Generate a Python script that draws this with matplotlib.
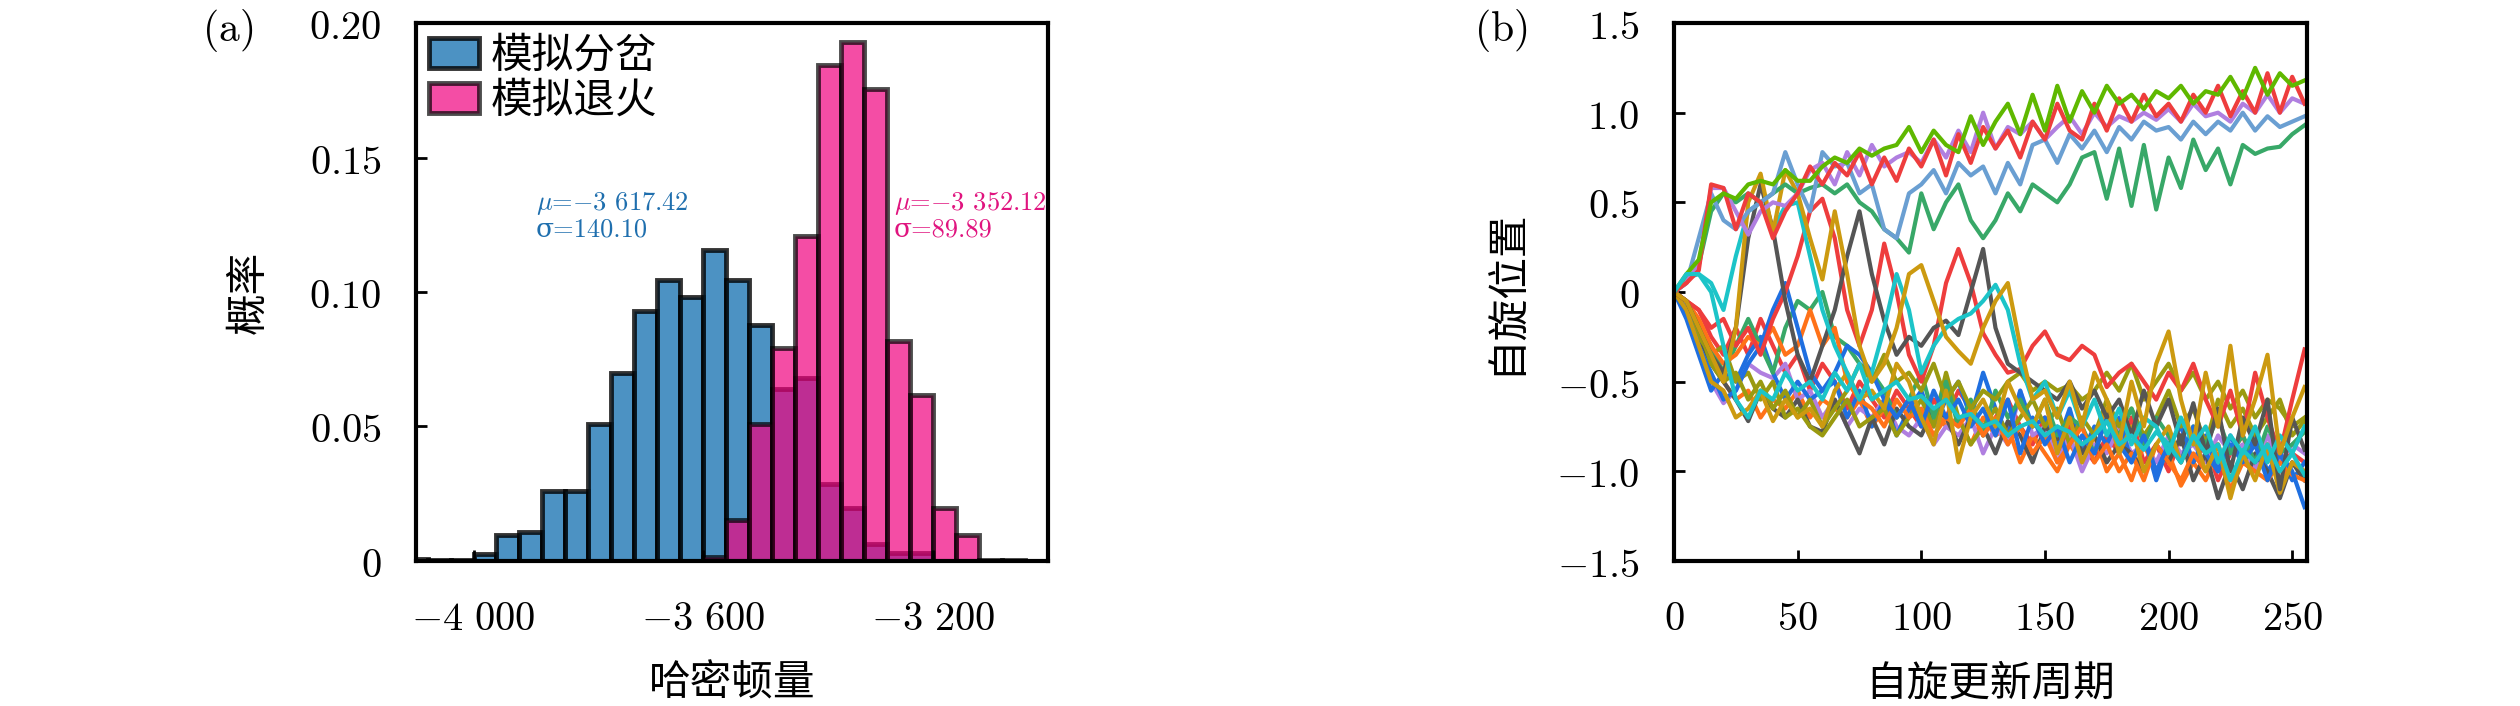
import numpy as np
import matplotlib
matplotlib.use("Agg")
import matplotlib.pyplot as plt

plt.rcParams['font.family'] = ['Noto Sans CJK SC', 'DejaVu Sans']
plt.rcParams['mathtext.fontset'] = 'cm'

# ---------------- (a) histogram data ----------------
bin_left = [-4120, -4080, -4040, -4000, -3960, -3920, -3880, -3840, -3800,
            -3760, -3720, -3680, -3640, -3600, -3560, -3520, -3480, -3440,
            -3400, -3360, -3320, -3280, -3240, -3200, -3160, -3120, -3080]
bin_width = 40
prob_bifurcation = [0.0006, 0.0004, 0.0004, 0.0026, 0.0095, 0.0107, 0.026, 0.026, 0.051,
                    0.0698, 0.093, 0.1046, 0.098, 0.1158, 0.1046, 0.0877, 0.064, 0.068,
                    0.0287, 0.0198, 0.0064, 0.0029, 0.0029, 0, 0, 0, 0]
prob_annealing = [0, 0, 0, 0, 0, 0, 0, 0, 0,
                  0, 0, 0, 0, 0.0015, 0.0153, 0.051, 0.0793, 0.1207,
                  0.1843, 0.1931, 0.1755, 0.0816, 0.0617, 0.0198, 0.0098, 0.0005, 0.0005]
hist_labels = ['模拟分岔', '模拟退火']
text_bif = r'$\mu$=$-$3 617.42' + '\n' + 'σ=140.10'
text_ann = r'$\mu$=$-$3 352.12' + '\n' + 'σ=89.89'

hx_ticks = [-4000, -3600, -3200]
hx_labels = [r'$-4\ 000$', r'$-3\ 600$', r'$-3\ 200$']
hy_ticks = [0, 0.05, 0.10, 0.15, 0.20]
hy_labels = [r'$0$', r'$0.05$', r'$0.10$', r'$0.15$', r'$0.20$']

# ---------------- (b) spin trajectories (sampled every 5 cycles) ----------------
steps = list(range(0, 256, 5))

lime_up = [0.0, 0.1, 0.18, 0.5, 0.55, 0.52, 0.6, 0.62, 0.6, 0.68,
           0.62, 0.62, 0.7, 0.75, 0.72, 0.8, 0.76, 0.8, 0.82, 0.92,
           0.78, 0.9, 0.82, 0.78, 0.98, 0.82, 0.95, 1.05, 0.88, 1.1,
           0.9, 1.15, 0.95, 1.12, 1.0, 1.15, 1.05, 1.1, 1.02, 1.12,
           1.08, 1.15, 1.05, 1.12, 1.1, 1.2, 1.08, 1.25, 1.1, 1.22,
           1.15, 1.18]
red_up = [0.0, 0.05, 0.12, 0.6, 0.58, 0.35, 0.55, 0.5, 0.3, 0.45,
          0.55, 0.7, 0.6, 0.72, 0.65, 0.78, 0.6, 0.75, 0.62, 0.8,
          0.7, 0.85, 0.65, 0.88, 0.72, 0.92, 0.8, 0.9, 0.75, 0.95,
          0.85, 1.05, 0.9, 0.85, 1.05, 0.9, 1.08, 0.95, 1.1, 0.98,
          1.05, 0.95, 1.1, 1.0, 1.15, 0.98, 1.12, 1.0, 1.22, 1.0,
          1.2, 1.05]
purple_up = [0.0, 0.05, 0.15, 0.58, 0.58, 0.45, 0.32, 0.45, 0.5, 0.48,
             0.55, 0.68, 0.72, 0.6, 0.78, 0.65, 0.82, 0.7, 0.75, 0.78,
             0.72, 0.85, 0.75, 0.9, 0.78, 1.0, 0.8, 0.92, 0.88, 0.95,
             0.85, 0.92, 0.98, 0.88, 1.0, 0.92, 0.98, 0.95, 1.0, 0.96,
             1.02, 0.95, 1.05, 0.98, 1.0, 0.95, 1.05, 1.0, 1.1, 1.0,
             1.08, 1.05]
steel_up = [0.0, 0.05, 0.3, 0.55, 0.4, 0.35, 0.45, 0.5, 0.55, 0.78,
            0.6, 0.45, 0.78, 0.7, 0.72, 0.55, 0.6, 0.35, 0.3, 0.55,
            0.6, 0.68, 0.55, 0.72, 0.65, 0.7, 0.55, 0.72, 0.6, 0.82,
            0.85, 0.72, 0.88, 0.8, 0.9, 0.78, 0.92, 0.85, 0.95, 0.9,
            0.92, 0.85, 0.95, 0.88, 0.95, 0.9, 1.0, 0.9, 0.98, 0.92,
            0.95, 0.98]
green_up = [0.0, 0.05, 0.15, 0.45, 0.55, 0.5, 0.55, 0.5, 0.55, 0.6,
            0.55, 0.58, 0.6, 0.55, 0.6, 0.5, 0.45, 0.35, 0.3, 0.22,
            0.55, 0.35, 0.5, 0.6, 0.4, 0.3, 0.4, 0.55, 0.45, 0.6,
            0.55, 0.5, 0.6, 0.75, 0.78, 0.52, 0.8, 0.48, 0.82, 0.46,
            0.75, 0.58, 0.85, 0.68, 0.8, 0.6, 0.82, 0.77, 0.8, 0.81,
            0.88, 0.93]

red_low = [0.0, -0.05, -0.1, -0.2, -0.15, -0.3, -0.2, -0.35, -0.15, 0.0,
           0.2, 0.45, 0.52, 0.3, -0.1, -0.3, -0.1, 0.27, 0.0, -0.35,
           -0.5, -0.3, 0.05, 0.24, 0.05, -0.23, -0.35, -0.45, -0.43, -0.3,
           -0.22, -0.35, -0.38, -0.3, -0.35, -0.53, -0.45, -0.4, -0.5, -0.6,
           -0.45, -0.55, -0.4, -0.6, -0.75, -0.55, -0.8, -0.45, -0.7, -0.9,
           -0.6, -0.32]
gray_a = [0.0, -0.05, -0.2, -0.35, -0.45, -0.2, 0.3, 0.6, 0.35, -0.05,
          -0.35, -0.5, -0.3, -0.1, 0.2, 0.45, 0.1, -0.16, -0.35, -0.25,
          -0.3, -0.2, -0.16, -0.24, 0.0, 0.24, -0.2, -0.4, -0.45, -0.5,
          -0.55, -0.6, -0.5, -0.65, -0.55, -0.7, -0.6, -0.8, -0.55, -0.75,
          -0.6, -0.85, -0.62, -0.9, -0.65, -1.0, -0.7, -0.85, -0.6, -1.1,
          -0.7, -0.88]
gray_b = [0.0, -0.1, -0.25, -0.4, -0.5, -0.6, -0.72, -0.55, -0.65, -0.7,
          -0.6, -0.75, -0.78, -0.6, -0.75, -0.9, -0.7, -0.85, -0.65, -0.75,
          -0.8, -0.65, -0.7, -0.85, -0.7, -0.75, -0.9, -0.72, -0.8, -0.95,
          -0.75, -0.82, -0.7, -0.9, -0.8, -0.95, -0.85, -0.9, -1.0, -0.85,
          -0.95, -0.8, -1.05, -0.9, -1.15, -0.95, -1.1, -0.9, -1.0, -1.15,
          -0.95, -1.05]
cyan_a = [0.0, 0.08, 0.1, 0.05, -0.1, 0.2, 0.45, 0.5, 0.35, 0.48,
          0.5, 0.2, -0.1, -0.3, -0.45, -0.6, -0.45, -0.2, 0.1, -0.1,
          -0.45, -0.3, -0.2, -0.15, -0.12, -0.05, 0.04, -0.1, -0.4, -0.6,
          -0.5, -0.7, -0.55, -0.75, -0.6, -0.8, -0.65, -0.85, -0.7, -0.75,
          -0.9, -0.7, -0.85, -0.75, -0.95, -0.8, -0.9, -0.75, -0.95, -0.8,
          -0.9, -0.75]
cyan_b = [0.0, 0.1, 0.1, 0.0, -0.3, -0.6, -0.7, -0.55, -0.6, -0.45,
          -0.55, -0.5, -0.6, -0.45, -0.55, -0.4, -0.6, -0.55, -0.5, -0.6,
          -0.58, -0.65, -0.6, -0.7, -0.68, -0.75, -0.72, -0.8, -0.75, -0.72,
          -0.8, -0.75, -0.78, -0.85, -0.8, -0.72, -0.85, -0.8, -0.88, -0.78,
          -0.85, -0.95, -0.8, -0.9, -0.85, -1.05, -0.88, -0.95, -0.85, -1.0,
          -0.9, -1.02]
gold_a = [0.0, -0.05, -0.2, -0.35, -0.5, -0.2, 0.5, 0.66, 0.33, 0.68,
          0.55, 0.3, 0.07, 0.45, 0.1, -0.3, -0.5, -0.4, -0.2, 0.1,
          0.15, -0.05, -0.25, -0.33, -0.4, -0.2, -0.05, 0.05, -0.3, -0.6,
          -0.55, -0.7, -0.5, -0.75, -0.45, -0.6, -0.85, -0.5, -0.75, -0.4,
          -0.22, -0.6, -0.85, -0.45, -0.75, -0.3, -0.8, -0.6, -0.35, -0.9,
          -0.7, -0.53]
gold_b = [0.0, -0.1, -0.3, -0.5, -0.55, -0.7, -0.65, -0.55, -0.72, -0.6,
          -0.7, -0.65, -0.75, -0.55, -0.45, -0.6, -0.55, -0.65, -0.4, -0.5,
          -0.7, -0.85, -0.55, -0.95, -0.7, -0.6, -0.75, -0.5, -0.65, -0.75,
          -0.6, -0.9, -0.7, -0.95, -0.8, -0.65, -0.9, -0.75, -1.0, -0.85,
          -0.75, -0.95, -0.8, -1.0, -0.85, -1.15, -0.9, -1.05, -0.85, -1.12,
          -0.95, -1.0]
olive_a = [0.0, -0.05, -0.2, -0.4, -0.5, -0.45, -0.6, -0.5, -0.65, -0.55,
           -0.7, -0.6, -0.75, -0.65, -0.55, -0.4, -0.5, -0.35, -0.5, -0.45,
           -0.55, -0.4, -0.6, -0.5, -0.65, -0.55, -0.6, -0.5, -0.45, -0.55,
           -0.5, -0.55, -0.52, -0.6, -0.55, -0.45, -0.55, -0.4, -0.6, -0.5,
           -0.4, -0.55, -0.45, -0.6, -0.5, -0.65, -0.55, -0.7, -0.6, -0.65,
           -0.75, -0.7]
olive_b = [0.0, -0.1, -0.25, -0.35, -0.3, -0.5, -0.45, -0.6, -0.5, -0.7,
           -0.65, -0.75, -0.8, -0.7, -0.6, -0.75, -0.7, -0.65, -0.8, -0.7,
           -0.6, -0.75, -0.45, -0.7, -0.85, -0.75, -0.65, -0.8, -0.7, -0.6,
           -0.75, -0.65, -0.85, -0.7, -0.8, -0.6, -0.75, -0.65, -0.8, -0.7,
           -0.55, -0.75, -0.65, -0.85, -0.6, -0.75, -0.65, -0.8, -0.7, -0.6,
           -0.8, -0.72]
orange_a = [0.0, -0.05, -0.15, -0.3, -0.4, -0.35, -0.25, -0.3, -0.2, -0.35,
            -0.3, -0.1, -0.3, -0.2, -0.5, -0.6, -0.65, -0.75, -0.6, -0.7,
            -0.65, -0.8, -0.7, -0.75, -0.65, -0.8, -0.7, -0.85, -0.75, -0.9,
            -0.8, -0.95, -0.85, -0.75, -0.95, -0.85, -1.0, -0.9, -1.05, -0.85,
            -0.95, -1.05, -0.9, -1.0, -0.85, -1.05, -0.95, -1.0, -1.05, -0.95,
            -1.02, -1.05]
orange_b = [0.0, -0.05, -0.2, -0.35, -0.5, -0.6, -0.55, -0.7, -0.6, -0.65,
            -0.55, -0.7, -0.6, -0.65, -0.7, -0.6, -0.75, -0.65, -0.7, -0.6,
            -0.7, -0.65, -0.75, -0.7, -0.85, -0.7, -0.8, -0.75, -0.95, -0.8,
            -0.9, -1.0, -0.85, -0.95, -0.8, -1.0, -0.9, -1.05, -0.85, -1.0,
            -0.9, -1.08, -0.95, -1.05, -0.9, -1.1, -0.95, -1.0, -0.9, -1.05,
            -0.95, -1.0]
blue_a = [0.0, -0.1, -0.3, -0.45, -0.6, -0.55, -0.4, -0.3, -0.1, 0.05,
          -0.2, -0.45, -0.55, -0.45, -0.3, -0.35, -0.45, -0.6, -0.7, -0.6,
          -0.75, -0.55, -0.7, -0.6, -0.75, -0.65, -0.8, -0.6, -0.9, -0.7,
          -0.85, -0.75, -0.95, -0.8, -0.9, -0.7, -0.85, -0.95, -0.8, -1.0,
          -0.85, -0.95, -0.75, -0.9, -1.0, -0.8, -0.95, -0.85, -1.05, -0.9,
          -1.0, -1.2]
blue_b = [0.0, -0.15, -0.35, -0.55, -0.45, -0.5, -0.35, -0.25, -0.45, -0.6,
          -0.5, -0.6, -0.55, -0.5, -0.7, -0.55, -0.75, -0.6, -0.8, -0.65,
          -0.55, -0.75, -0.6, -0.5, -0.7, -0.45, -0.65, -0.8, -0.55, -0.75,
          -0.7, -0.85, -0.65, -0.9, -0.75, -0.85, -0.7, -0.95, -0.8, -1.05,
          -0.85, -0.75, -0.95, -0.8, -1.0, -0.85, -0.95, -0.8, -1.0, -0.9,
          -1.05, -0.95]
green_low = [0.0, -0.05, -0.2, -0.3, -0.45, -0.3, -0.15, -0.3, -0.45, -0.2,
             -0.05, -0.1, 0.0, -0.25, -0.3, -0.4, -0.45, -0.55, -0.7, -0.6,
             -0.45, -0.7, -0.5, -0.75, -0.6, -0.8, -0.55, -0.7, -0.6, -0.75,
             -0.6, -0.8, -0.7, -0.75, -0.9, -0.7, -0.8, -0.65, -0.85, -0.7,
             -0.8, -0.95, -0.75, -0.85, -0.7, -0.9, -0.8, -0.95, -0.75, -0.9,
             -0.85, -0.78]
purple_low = [0.0, -0.1, -0.3, -0.5, -0.62, -0.55, -0.4, -0.45, -0.48, -0.4,
              -0.6, -0.55, -0.7, -0.6, -0.75, -0.65, -0.7, -0.6, -0.75, -0.8,
              -0.7, -0.85, -0.75, -0.8, -0.7, -0.9, -0.75, -0.85, -0.55, -0.8,
              -0.75, -0.95, -0.8, -1.0, -0.85, -0.9, -0.75, -0.9, -0.85, -0.95,
              -0.8, -0.9, -0.85, -0.95, -0.8, -0.9, -0.85, -1.0, -0.8, -0.95,
              -0.85, -0.9]
red_low2 = [0.0, -0.05, -0.1, -0.25, -0.35, -0.2, -0.35, -0.15, -0.3, -0.45,
            -0.35, -0.55, -0.4, -0.5, -0.65, -0.5, -0.6, -0.7, -0.55, -0.65,
            -0.75, -0.6, -0.7, -0.55, -0.65, -0.8, -0.7, -0.6, -0.75, -0.85,
            -0.7, -0.9, -0.75, -0.85, -0.95, -0.8, -0.9, -0.7, -0.95, -0.85,
            -1.0, -0.8, -0.95, -0.85, -1.05, -0.9, -0.8, -1.0, -0.85, -0.95,
            -0.9, -0.95]

spin_series = [
    (red_low2, '#ee3d3d'), (orange_b, '#ff7218'), (purple_low, '#b07fe0'),
    (blue_b, '#1f6fe0'), (gray_b, '#555555'), (olive_b, '#9a9a10'),
    (green_low, '#38a868'), (orange_a, '#ff7218'), (blue_a, '#1f6fe0'),
    (olive_a, '#9a9a10'), (gold_b, '#cc9a10'), (red_low, '#ee3d3d'),
    (gray_a, '#555555'), (cyan_a, '#1cc4c8'), (gold_a, '#cc9a10'),
    (green_up, '#38a868'), (steel_up, '#6a9fd2'), (purple_up, '#b07fe0'),
    (red_up, '#ee3d3d'), (lime_up, '#5fb800'), (cyan_b, '#1cc4c8'),
]

sx_ticks = [0, 50, 100, 150, 200, 250]
sy_ticks = [-1.5, -1.0, -0.5, 0, 0.5, 1.0, 1.5]
sy_labels = [r'$-1.5$', r'$-1.0$', r'$-0.5$', r'$0$', r'$0.5$', r'$1.0$', r'$1.5$']

# ---------------- figure ----------------
fig = plt.figure(figsize=(25.2, 7.06), dpi=100)
ax1 = fig.add_axes([0.1651, 0.2054, 0.2508, 0.762])
ax2 = fig.add_axes([0.6643, 0.2054, 0.2512, 0.762])

tick_fs = 29
for ax in (ax1, ax2):
    for sp in ax.spines.values():
        sp.set_linewidth(3)
    ax.tick_params(direction='in', length=8, width=2, labelsize=tick_fs)
    ax.tick_params(axis='x', pad=27)
    ax.tick_params(axis='y', pad=25)

# (a)
blue_c, pink_c = '#1f77b4', '#f0027f'
bl = [b for b, h in zip(bin_left, prob_bifurcation) if h > 0]
bh = [h for h in prob_bifurcation if h > 0]
pl = [b for b, h in zip(bin_left, prob_annealing) if h > 0]
ph = [h for h in prob_annealing if h > 0]
ax1.bar(bl, bh, width=bin_width, align='edge', color=blue_c, alpha=0.8,
        edgecolor='black', linewidth=3.5, label=hist_labels[0])
ax1.bar(pl, ph, width=bin_width, align='edge', color=pink_c, alpha=0.7,
        edgecolor='black', linewidth=3.5, label=hist_labels[1])
ax1.set_xlim(-4100, -3000)
ax1.set_ylim(0, 0.2)
ax1.set_xticks(hx_ticks, labels=hx_labels)
ax1.set_yticks(hy_ticks, labels=hy_labels)
ax1.set_xlabel('哈密顿量', fontsize=30)
ax1.set_ylabel('概率', fontsize=30)
ax1.xaxis.set_label_coords(0.5, -0.19)
ax1.yaxis.set_label_coords(-0.232, 0.5)
ax1.legend(loc='upper left', fontsize=30, frameon=False, handlelength=1.2,
           handleheight=0.75, handletextpad=0.3, labelspacing=0.1,
           borderaxespad=0.1, borderpad=0.2)

ax1.text(-3892, 0.138, text_bif, color='#1f6fae', fontsize=19,
         family=['cmr10', 'DejaVu Serif'], va='top', ha='left', linespacing=1.05)
ax1.text(-3269, 0.138, text_ann, color='#e0147f', fontsize=19,
         family=['cmr10', 'DejaVu Serif'], va='top', ha='left', linespacing=1.05)

# (b)
for vals, col in spin_series:
    ax2.plot(steps[:len(vals)], vals, color=col, lw=3)
ax2.set_xlim(0, 256)
ax2.set_ylim(-1.5, 1.5)
ax2.set_xticks(sx_ticks, labels=[f'${t}$' for t in sx_ticks])
ax2.set_yticks(sy_ticks, labels=sy_labels)
ax2.set_xlabel('自旋更新周期', fontsize=30)
ax2.set_ylabel('自旋位置', fontsize=30)
ax2.xaxis.set_label_coords(0.5, -0.19)
ax2.yaxis.set_label_coords(-0.232, 0.5)

fig.text(0.080, 0.99, r'$\mathrm{(a)}$', fontsize=30, va='top', ha='left')
fig.text(0.585, 0.99, r'$\mathrm{(b)}$', fontsize=30, va='top', ha='left')

fig.savefig('out.png', dpi=100)
